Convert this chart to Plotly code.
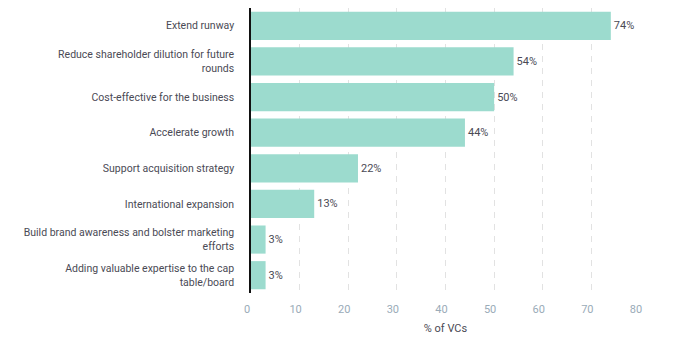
import plotly.graph_objects as go

categories = [
    "Extend runway",
    "Reduce shareholder dilution for future<br>rounds",
    "Cost-effective for the business",
    "Accelerate growth",
    "Support acquisition strategy",
    "International expansion",
    "Build brand awareness and bolster marketing<br>efforts",
    "Adding valuable expertise to the cap<br>table/board",
]
values = [74, 54, 50, 44, 22, 13, 3, 3]
labels = ["74%", "54%", "50%", "44%", "22%", "13%", "3%", "3%"]
x_ticks = [0, 10, 20, 30, 40, 50, 60, 70, 80]

fig = go.Figure(
    go.Bar(
        x=values,
        y=categories,
        orientation="h",
        marker=dict(color="#9cdbce", line=dict(width=0)),
        text=labels,
        textposition="outside",
        cliponaxis=False,
        textfont=dict(family="Roboto", size=11, color="#4a4a55"),
        hoverinfo="skip",
    )
)

fig.update_layout(
    width=691,
    height=351,
    margin=dict(l=251, r=51, t=8, b=58),
    paper_bgcolor="white",
    plot_bgcolor="white",
    bargap=0.21,
    showlegend=False,
    font=dict(family="Roboto", size=11, color="#4a4a55"),
)

fig.update_xaxes(
    range=[0, 80],
    tickvals=x_ticks,
    ticktext=[str(v) for v in x_ticks],
    showgrid=True,
    gridcolor="#e2e2e2",
    griddash="6px,6px",
    gridwidth=1,
    zeroline=False,
    showline=False,
    ticks="",
    tickfont=dict(family="Roboto", size=11, color="#9aabb8"),
    ticklabelshift=-4,
    ticklabelstandoff=8,
    title=dict(text="% of VCs", font=dict(family="Roboto", size=11, color="#4a4a55"), standoff=9),
)

fig.update_yaxes(
    autorange="reversed",
    showline=True,
    linecolor="#111111",
    linewidth=1.5,
    showgrid=False,
    ticks="",
    ticklabelstandoff=13,
    tickfont=dict(family="Roboto", size=10.5, color="#4a4a55"),
)

fig.write_html("out.html")
